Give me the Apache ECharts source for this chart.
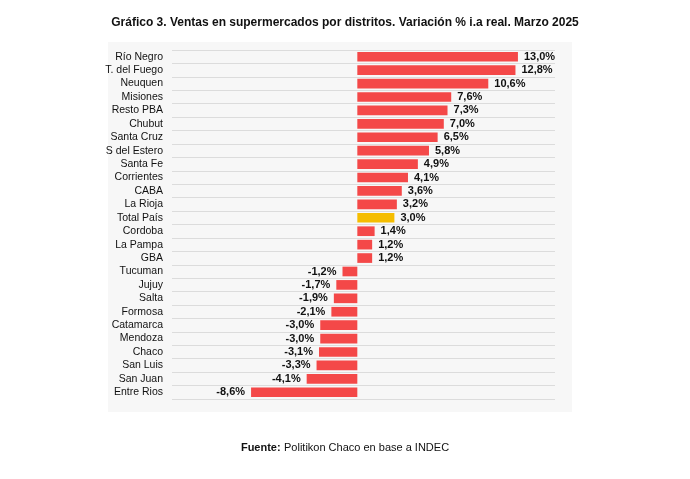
<!DOCTYPE html>
<html><head><meta charset="utf-8">
<script src="https://cdn.jsdelivr.net/npm/echarts@6/dist/echarts.min.js"></script>
<style>html,body{margin:0;padding:0;background:#fff}#c{width:690px;height:479px}</style>
</head><body><div id="c"></div>
<script>
const categories = ["Río Negro","T. del Fuego","Neuquen","Misiones","Resto PBA","Chubut","Santa Cruz","S del Estero","Santa Fe","Corrientes","CABA","La Rioja","Total País","Cordoba","La Pampa","GBA","Tucuman","Jujuy","Salta","Formosa","Catamarca","Mendoza","Chaco","San Luis","San Juan","Entre Rios"];
const values = [13.0,12.8,10.6,7.6,7.3,7.0,6.5,5.8,4.9,4.1,3.6,3.2,3.0,1.4,1.2,1.2,-1.2,-1.7,-1.9,-2.1,-3.0,-3.0,-3.1,-3.3,-4.1,-8.6];
const highlight = "Total País";
const chart = echarts.init(document.getElementById('c'));
const fmt = v => v.toFixed(1).replace('.', ',') + '%';
chart.setOption({
  animation:false,
  title:{text:'Gráfico 3. Ventas en supermercados por distritos. Variación % i.a real. Marzo 2025',left:'center',top:12,textStyle:{fontSize:12,fontWeight:'bold',color:'#111',fontFamily:'Liberation Sans'}},
  graphic:[
    {type:'rect',shape:{x:108,y:42,width:464,height:370},style:{fill:'#f7f7f7'},z:-10},
    {type:'text',left:'center',top:442,style:{rich:{b:{fontWeight:'bold',fontSize:11,fill:'#111'},n:{fontSize:11,fill:'#111'}},text:'{b|Fuente:} {n|Politikon Chaco en base a INDEC}',fontFamily:'Liberation Sans'}}
  ],
  grid:{left:172,right:135,top:50,bottom:80,containLabel:false},
  xAxis:{type:'value',min:-15,max:16,show:false},
  yAxis:{type:'category',data:categories,inverse:true,axisTick:{show:false},axisLine:{show:false},
    axisLabel:{color:'#111',fontSize:10.5,fontFamily:'Liberation Sans',margin:9,interval:0},
    splitLine:{show:true,interval:0,lineStyle:{color:'#dcdcdc'}}},
  series:[{type:'bar',barWidth:'72%',
    data:values.map((v,i)=>({value:v,itemStyle:{color:categories[i]===highlight?'#f5bd00':'#f44848'},
      label:{show:true,position:v>=0?'right':'left',formatter:fmt(v),fontWeight:'bold',fontSize:11,color:'#111',fontFamily:'Liberation Sans',distance:6}}))
  }]
});
</script></body></html>
